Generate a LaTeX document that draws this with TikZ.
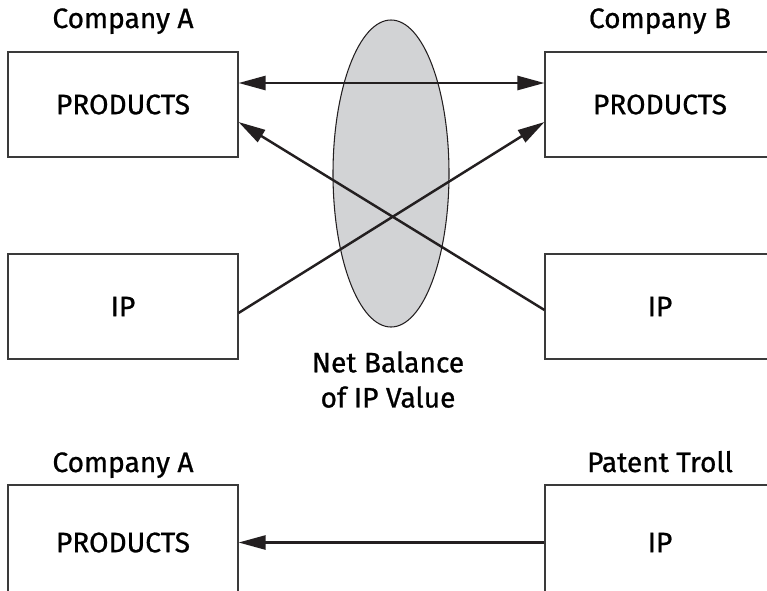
\documentclass[tikz,border=0pt]{standalone}
\usepackage{fontspec}
\setmainfont{Fira Sans}[FakeBold=0.8]
\usepackage{tikz}
\usetikzlibrary{arrows.meta,calc,positioning,shapes.geometric}
\definecolor{LineInk}{HTML}{231F20}
\definecolor{BoxInk}{HTML}{3A3A3A}
\definecolor{BalanceGray}{HTML}{D2D3D5}

\begin{document}
\begin{tikzpicture}[
  box/.style={draw=BoxInk,line width=0.6pt,minimum width=4.6cm,minimum height=2.1cm,font=\fontsize{16}{20}\selectfont},
  party/.style={font=\fontsize{16}{20}\selectfont,anchor=base},
  flow/.style={-{Triangle[length=5.4mm,width=2.8mm]},draw=LineInk,line width=1.4pt},
  swap/.style={{Triangle[length=5.4mm,width=2.8mm]}-{Triangle[length=5.4mm,width=2.8mm]},draw=LineInk,line width=1.4pt},
  balance/.style={ellipse,draw=LineInk,line width=0.6pt,fill=BalanceGray,minimum width=2.32cm,minimum height=6.14cm,inner sep=0pt}
]
\useasboundingbox (0,0) rectangle (15.34,-11.8);

% cross licensing
\node[balance] (bal) at (7.82,-3.47) {};
\node[align=center,font=\fontsize{16}{20}\selectfont] (net) at (7.76,-7.59) {Net Balance\\of IP Value};

\node[box] (prodA) at (2.46,-2.09) {PRODUCTS};
\node[box] (prodB) at (13.2,-2.09) {PRODUCTS};
\node[box] (ipA) at (2.46,-6.13) {IP};
\node[box] (ipB) at (13.2,-6.13) {IP};
\node[party] (coA) at (2.46,-0.56) {Company A};
\node[party] (coB) at (13.2,-0.56) {Company B};

\draw[swap] ($(prodA.east)+(0,0.43)$) -- ($(prodB.west)+(0,0.43)$);
\draw[flow] ($(ipA.east)+(0,-0.13)$) -- ($(prodB.west)+(0,-0.35)$);
\draw[flow] ($(ipB.west)+(0,-0.07)$) -- ($(prodA.east)+(0,-0.35)$);

% troll
\node[box,minimum height=2.3cm] (prodC) at (2.46,-10.85) {PRODUCTS};
\node[box,minimum height=2.3cm] (ipT) at (13.2,-10.85) {IP};
\node[party] (coC) at (2.46,-9.44) {Company A};
\node[party] (troll) at (13.2,-9.44) {Patent Troll};

\draw[flow] (ipT.west) -- (prodC.east);
\end{tikzpicture}
\end{document}
